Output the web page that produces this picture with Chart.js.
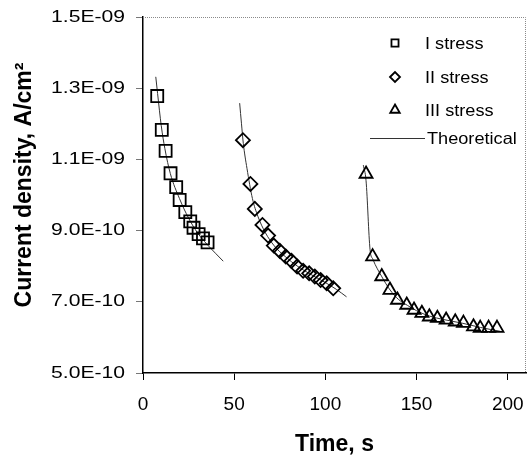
<!DOCTYPE html>
<html>
<head>
<meta charset="utf-8">
<script src="https://cdn.jsdelivr.net/npm/chart.js@4/dist/chart.umd.min.js"></script>
<style>
html,body{margin:0;padding:0;background:#fff;}
#wrap{width:527px;height:456px;}
</style>
</head>
<body>
<div id="wrap"><canvas id="c" width="527" height="456"></canvas></div>
<script>
// ---- data (time in s, current density in A/cm2) ----
const timeI = [7.8, 10.3, 12.4, 15.1, 18.2, 20.1, 23.2, 25.9, 27.7, 30.5, 32.9, 35.4];
const currentI = [1.278e-9, 1.183e-9, 1.124e-9, 1.061e-9, 1.022e-9, 0.986e-9, 0.952e-9, 0.926e-9, 0.908e-9, 0.890e-9, 0.878e-9, 0.867e-9];

const timeII = [54.8, 58.9, 61.3, 65.5, 68.6, 71.7, 75.0, 78.3, 81.4, 84.5, 87.8, 91.1, 94.2, 97.4, 100.7, 104.3];
const currentII = [1.154e-9, 1.031e-9, 0.961e-9, 0.916e-9, 0.886e-9, 0.858e-9, 0.843e-9, 0.827e-9, 0.815e-9, 0.799e-9, 0.787e-9, 0.780e-9, 0.771e-9, 0.761e-9, 0.752e-9, 0.738e-9];

const timeIII = [122.3, 125.9, 130.9, 135.4, 139.5, 144.6, 148.6, 152.9, 157.0, 161.4, 166.2, 171.2, 175.7, 181.2, 184.9, 189.5, 194.1];
const currentIII = [1.059e-9, 0.827e-9, 0.771e-9, 0.733e-9, 0.705e-9, 0.691e-9, 0.677e-9, 0.668e-9, 0.658e-9, 0.654e-9, 0.649e-9, 0.644e-9, 0.640e-9, 0.630e-9, 0.626e-9, 0.626e-9, 0.626e-9];

const theoTimeI = [7.0, 8, 10, 12, 15, 20, 25, 30, 35, 40, 44];
const theoCurrentI = [1.332e-9, 1.285e-9, 1.195e-9, 1.13e-9, 1.06e-9, 0.99e-9, 0.935e-9, 0.893e-9, 0.862e-9, 0.835e-9, 0.814e-9];

const theoTimeII = [53, 54, 55, 57, 60, 63, 67, 72, 78, 85, 92, 100, 106, 111.6];
const theoCurrentII = [1.258e-9, 1.2e-9, 1.145e-9, 1.075e-9, 0.99e-9, 0.94e-9, 0.895e-9, 0.857e-9, 0.827e-9, 0.799e-9, 0.777e-9, 0.754e-9, 0.735e-9, 0.714e-9];

const theoTimeIII = [120.8, 122.3, 124.5, 126, 131, 135.5, 140, 145, 150, 157, 165, 175, 185, 196];
const theoCurrentIII = [1.084e-9, 1.04e-9, 0.846e-9, 0.82e-9, 0.77e-9, 0.733e-9, 0.707e-9, 0.69e-9, 0.675e-9, 0.66e-9, 0.65e-9, 0.64e-9, 0.628e-9, 0.617e-9];

const seriesLabels = ["I stress", "II stress", "III stress", "Theoretical"];
const xTicks = [0, 50, 100, 150, 200];
const yTicks = [5e-10, 7e-10, 9e-10, 1.1e-9, 1.3e-9, 1.5e-9];
const yTickLabels = ["5.0E-10", "7.0E-10", "9.0E-10", "1.1E-09", "1.3E-09", "1.5E-09"];
const xTitle = "Time, s";
const yTitle = "Current density, A/cm²";

// ---- build ----
const pts = (xs, ys) => xs.map((x, i) => ({x: x, y: ys[i]}));
const FONT = "'Liberation Sans', Arial, sans-serif";

function markerSet(label, xs, ys, style, radius) {
  return {
    type: 'scatter', label: label, data: pts(xs, ys),
    pointStyle: style, pointRadius: radius, pointHoverRadius: radius,
    borderColor: '#000', backgroundColor: 'rgba(0,0,0,0)', pointBorderWidth: 1.8,
    showLine: false, order: 1
  };
}
function theoSet(xs, ys) {
  return {
    type: 'line', label: seriesLabels[3], data: pts(xs, ys),
    borderColor: '#333', borderWidth: 1, pointRadius: 0,
    cubicInterpolationMode: 'monotone', fill: false, order: 2
  };
}

const datasets = [
  markerSet(seriesLabels[0], timeI, currentI, 'rect', 8.5),
  markerSet(seriesLabels[1], timeII, currentII, 'rectRot', 7),
  markerSet(seriesLabels[2], timeIII, currentIII, 'triangle', 7.5),
  theoSet(theoTimeI, theoCurrentI),
  theoSet(theoTimeII, theoCurrentII),
  theoSet(theoTimeIII, theoCurrentIII)
];

// stretch y tick labels horizontally and nudge the y title, like the original
const patchPlugin = {
  id: 'patch',
  afterLayout(chart) {
    const y = chart.scales.y;
    if (y.__patched) return;
    y.__patched = true;
    const dl = y.drawLabels.bind(y);
    y.drawLabels = function (area) {
      const ctx = chart.ctx;
      const items = this.getLabelItems(area);
      const rx = items.length ? items[0].options.translation[0] : this.right - 18;
      ctx.save();
      ctx.translate(rx, 0); ctx.scale(1.28, 1); ctx.translate(-rx, 0);
      dl(area);
      ctx.restore();
    };
    const dt = y.drawTitle.bind(y);
    y.drawTitle = function () {
      const ctx = chart.ctx;
      ctx.save();
      ctx.translate(0, -10);
      dt();
      ctx.restore();
    };
  }
};

const framePlugin = {
  id: 'frame',
  beforeDatasetsDraw(chart) {
    const {ctx, chartArea: a} = chart;
    ctx.save();
    ctx.strokeStyle = '#8a8a8a';
    ctx.lineWidth = 1;
    ctx.setLineDash([1, 1]);
    ctx.beginPath();
    ctx.moveTo(a.left, a.top + 0.5);
    ctx.lineTo(a.right - 0.5, a.top + 0.5);
    ctx.lineTo(a.right - 0.5, a.bottom);
    ctx.stroke();
    ctx.restore();
  },
  afterDraw(chart) {
    const ctx = chart.ctx;
    const mx = 395, tx = 425;
    const rows = [
      {ds: 0, y: 43, r: 5},
      {ds: 1, y: 77, r: 5},
      {ds: 2, y: 110, r: 5.5}
    ];
    ctx.save();
    ctx.font = '16.5px ' + FONT;
    ctx.textBaseline = 'middle';
    ctx.textAlign = 'left';
    const label = (txt, x, y) => {
      ctx.save();
      ctx.translate(x, 0); ctx.scale(1.1, 1);
      ctx.fillStyle = '#000';
      ctx.fillText(txt, 0, y);
      ctx.restore();
    };
    rows.forEach(row => {
      const d = chart.data.datasets[row.ds];
      ctx.strokeStyle = '#000';
      ctx.fillStyle = 'rgba(0,0,0,0)';
      ctx.lineWidth = 1.8;
      Chart.helpers.drawPoint(ctx, {pointStyle: d.pointStyle, radius: row.r, rotation: 0, borderWidth: 1.8}, mx, row.y);
      label(d.label, tx, row.y + 1);
    });
    const t = chart.data.datasets[3];
    ctx.strokeStyle = t.borderColor;
    ctx.lineWidth = 1;
    ctx.beginPath();
    ctx.moveTo(370, 138.5);
    ctx.lineTo(425, 138.5);
    ctx.stroke();
    label(t.label, 427, 139);
    ctx.restore();
  }
};

new Chart(document.getElementById('c'), {
  data: {datasets: datasets},
  options: {
    responsive: false,
    animation: false,
    devicePixelRatio: 1,
    layout: {autoPadding: false, padding: {top: 17, right: 1, left: 0, bottom: 0}},
    plugins: {legend: {display: false}, tooltip: {enabled: false}},
    scales: {
      x: {
        type: 'linear', min: 0, max: 210,
        afterBuildTicks: (axis) => { axis.ticks = xTicks.map(v => ({value: v})); },
        afterFit: (s) => { s.height = 83; s.paddingLeft = 0; s.paddingRight = 0; },
        border: {display: true, color: '#000', width: 1.5},
        grid: {drawOnChartArea: false, drawTicks: true, tickLength: 7, tickColor: '#000', tickWidth: 1},
        ticks: {color: '#000', font: {family: FONT, size: 19}, padding: 13, maxRotation: 0,
                callback: (v) => String(v)},
        title: {display: true, text: xTitle, color: '#000',
                font: {family: FONT, size: 23, weight: 'bold', lineHeight: 0.96}, padding: 0}
      },
      y: {
        type: 'linear', min: 5e-10, max: 1.5e-9,
        afterBuildTicks: (axis) => { axis.ticks = yTicks.map(v => ({value: v})); },
        afterFit: (s) => { s.width = 143; s.paddingTop = 0; s.paddingBottom = 0; },
        border: {display: true, color: '#000', width: 1.5},
        grid: {drawOnChartArea: false, drawTicks: true, tickLength: 7, tickColor: '#777', tickWidth: 1},
        ticks: {color: '#000', font: {family: FONT, size: 16.5}, padding: 11,
                callback: (v, i) => yTickLabels[i]},
        title: {display: true, text: yTitle, color: '#000',
                font: {family: FONT, size: 23, weight: 'bold', lineHeight: 1.2}, padding: {top: 11, bottom: 0}}
      }
    }
  },
  plugins: [patchPlugin, framePlugin]
});
</script>
</body>
</html>
